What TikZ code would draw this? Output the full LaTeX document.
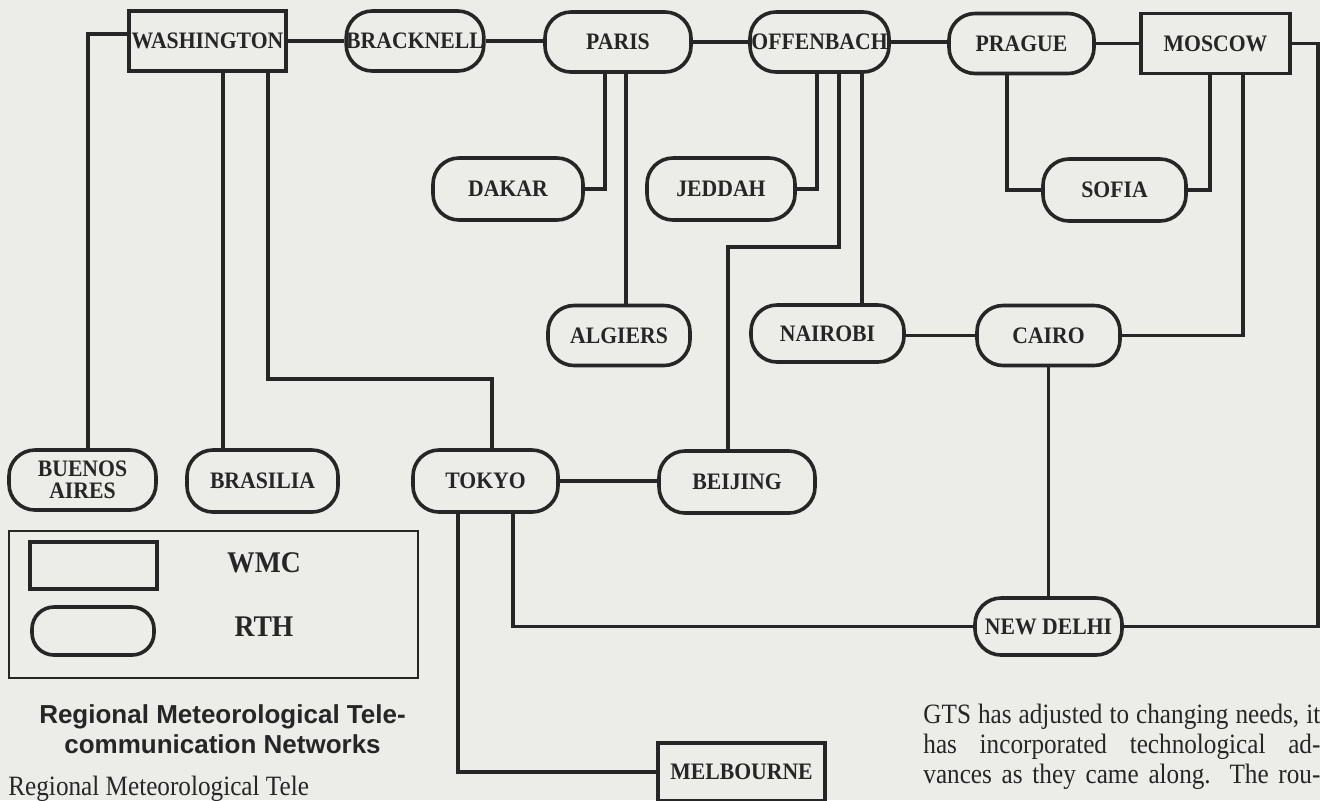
\documentclass[tikz,border=0pt]{standalone}
\usepackage{fontspec}
\setmainfont{Liberation Serif}
\newfontfamily\nodefont[FakeStretch=0.92]{Liberation Serif}
\newfontfamily\capfont{Liberation Sans}
\newfontfamily\bodyfont[FakeStretch=0.9]{Liberation Serif}
\usetikzlibrary{positioning,calc}
\definecolor{paper}{RGB}{236,236,232}
\definecolor{ink}{RGB}{38,38,38}

\begin{document}
\begin{tikzpicture}[x=0.5pt,y=-0.5pt,
  wmc/.style={rectangle,draw=ink,line width=1.8pt,fill=paper,inner sep=0pt,
    minimum height=30pt,text=ink,font={\nodefont\bfseries\fontsize{11.8}{11}\selectfont}},
  rth/.style={wmc,rounded corners=13pt,align=center},
  keytext/.style={text=ink,font={\nodefont\bfseries\fontsize{15}{16}\selectfont}},
  captext/.style={anchor=base,text=ink,font={\capfont\bfseries\fontsize{13}{15}\selectfont}},
  bodyline/.style={anchor=base west,inner sep=0pt,text=ink,font={\bodyfont\fontsize{14}{15}\selectfont}},
  link/.style={draw=ink,line width=1.8pt}]
  \useasboundingbox (0,0) rectangle (1320,800);
  \clip (0,0) rectangle (1320,800);
  \fill[paper] (0,0) rectangle (1320,800);
  % WMCs (boxes) and RTHs (rounded)
  \node[wmc,minimum width=78.5pt] (wash) at (207.5,41) {WASHINGTON};
  \node[rth,minimum width=67pt] (brack) at (415,41) {BRACKNELL};
  \node[rth,minimum width=73pt] (paris) at (618,42) {PARIS};
  \node[rth,minimum width=69.5pt] (offen) at (819.5,42) {OFFENBACH};
  \node[rth,minimum width=72.5pt] (prague) at (1021.5,43.5) {PRAGUE};
  \node[wmc,minimum width=74.5pt] (moscow) at (1215.5,43.5) {MOSCOW};
  \node[rth,minimum width=75pt,minimum height=31pt] (dakar) at (508,189) {DAKAR};
  \node[rth,minimum width=74pt,minimum height=31pt] (jeddah) at (721,189) {JEDDAH};
  \node[rth,minimum width=71.5pt,minimum height=31pt] (sofia) at (1114.5,190) {SOFIA};
  \node[rth,minimum width=71pt] (algiers) at (619,335.5) {ALGIERS};
  \node[rth,minimum width=76.5pt,minimum height=28.5pt] (nairobi) at (827.5,333.5) {NAIROBI};
  \node[rth,minimum width=71.5pt] (cairo) at (1048.5,335.5) {CAIRO};
  \node[rth,minimum width=73.5pt] (buenos) at (82.5,480) {BUENOS\\AIRES};
  \node[rth,minimum width=75.5pt,minimum height=31pt] (brasilia) at (262.5,481) {BRASILIA};
  \node[rth,minimum width=72.5pt,minimum height=31pt] (tokyo) at (485.5,481) {TOKYO};
  \node[rth,minimum width=78pt,minimum height=31pt] (beijing) at (737,482) {BEIJING};
  \node[rth,minimum width=73.5pt,minimum height=28.5pt] (delhi) at (1048.5,626.5) {NEW DELHI};
  \node[wmc,minimum width=83.5pt,minimum height=29pt] (melb) at (741.5,772) {MELBOURNE};
  % bends
  \coordinate (washbend) at (492,379);
  \coordinate (offenbend) at (728,247);
  \coordinate (eastedge) at (1318,626.5);
  % main chain
  \draw[link] (wash.east) -- (wash.east -| brack.west);
  \draw[link] (brack.east) -- (brack.east -| paris.west);
  \draw[link] (paris.east) -- (paris.east -| offen.west);
  \draw[link] (offen.east) -- (offen.east -| prague.west);
  \draw[link] (prague.east) -- (moscow.west);
  \draw[link] (moscow.east) -| (eastedge) -- (delhi.east);
  % Washington
  \draw[link] ([yshift=3.5pt]wash.west) -| ([xshift=2.75pt]buenos.north);
  \draw[link] ([xshift=7.75pt]wash.south) -- ([xshift=7.75pt]wash.south |- brasilia.north);
  \draw[link] ([xshift=30.25pt]wash.south) |- (washbend) -- (washbend |- tokyo.north);
  % Paris
  \draw[link] ([xshift=-6.5pt]paris.south) |- (dakar.east);
  \draw[link] ([xshift=4pt]paris.south) -- ([xshift=4pt]paris.south |- algiers.north);
  % Offenbach
  \draw[link] ([xshift=-1.25pt]offen.south) |- (jeddah.east);
  \draw[link] ([xshift=9.75pt]offen.south) |- (offenbend) -- (offenbend |- beijing.north);
  \draw[link] ([xshift=21.25pt]offen.south) -- ([xshift=21.25pt]offen.south |- nairobi.north);
  % Prague, Moscow
  \draw[link] ([xshift=-7.25pt]prague.south) |- (sofia.west);
  \draw[link] ([xshift=-2.75pt]moscow.south) |- (sofia.east);
  \draw[link] ([xshift=13.75pt]moscow.south) |- (cairo.east);
  \draw[link] (cairo.west -| nairobi.east) -- (cairo.west);
  \draw[link] (cairo.south) -- (delhi.north);
  % Tokyo
  \draw[link] (tokyo.east) -- (tokyo.east -| beijing.west);
  \draw[link] ([xshift=13.75pt]tokyo.south) |- (delhi.west);
  \draw[link] ([xshift=-13.75pt]tokyo.south) |- (melb.west);
  % legend
  \node[draw=ink,line width=1.2pt,minimum width=204.5pt,minimum height=73.5pt,inner sep=0pt] (legend) at (213.5,604.5) {};
  \node[wmc,minimum width=63.5pt,minimum height=23.5pt] (keywmc) at (93.5,565.5) {};
  \node[rth,minimum width=61pt,minimum height=24pt,rounded corners=11pt] (keyrth) at (93,631) {};
  \node[keytext] (wmclabel) at (264,563) {WMC};
  \node[keytext] (rthlabel) at (264,627) {RTH};
  % caption and page text
  \node[captext] (caption1) at (222.5,723) {Regional Meteorological Tele-};
  \node[captext] (caption2) at (222.5,753) {communication Networks};
  \node[bodyline] (gts1) at (923,723) {\makebox[198.5pt][s]{GTS has adjusted to changing needs, it}};
  \node[bodyline] (gts2) at (923,753) {\makebox[198.5pt][s]{has incorporated technological ad-}};
  \node[bodyline] (gts3) at (923,783) {\makebox[198.5pt][s]{vances as they came along. The rou-}};
  \node[bodyline] (regional) at (8,795) {Regional Meteorological Tele};
\end{tikzpicture}
\end{document}
